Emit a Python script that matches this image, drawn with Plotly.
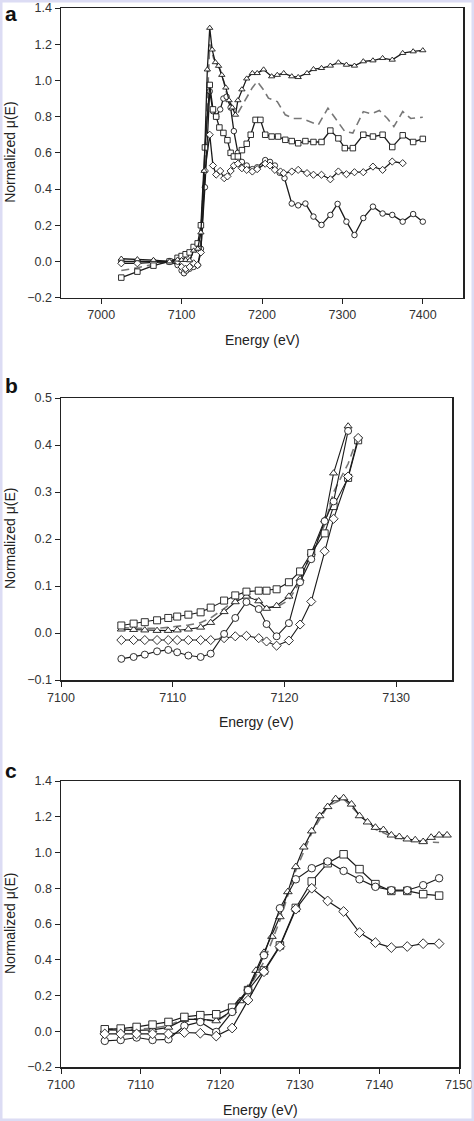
import plotly.graph_objects as go

# ---------------- Panel a data ----------------
a_tri_E = [7025, 7045, 7065, 7085, 7095, 7100, 7105, 7110, 7115, 7120, 7124, 7128, 7132, 7135, 7138, 7142,
           7146, 7150, 7155, 7159, 7163, 7167, 7170, 7175, 7181, 7188, 7194, 7202, 7212, 7219, 7227, 7237,
           7245, 7256, 7264, 7274, 7285, 7295, 7305, 7315, 7326, 7338, 7350, 7362, 7375, 7388, 7400]
a_tri_v = [0.015, 0.012, 0.008, 0.0, 0.01, 0.008, 0.008, 0.006, 0.06, 0.07, 0.16, 0.5, 1.06, 1.29, 1.17, 1.10,
           1.08, 1.03, 0.96, 0.89, 0.85, 0.81, 0.89, 0.95, 1.01, 1.04, 1.04, 1.06, 1.022, 1.03, 1.04, 1.022,
           1.018, 1.04, 1.062, 1.068, 1.081, 1.099, 1.086, 1.081, 1.105, 1.11, 1.123, 1.114, 1.151, 1.16, 1.166]

a_dash_E = [7025, 7045, 7065, 7085, 7100, 7110, 7120, 7124, 7129, 7135, 7140, 7148, 7152, 7156, 7161, 7166,
            7170, 7175, 7181, 7188, 7194, 7202, 7208, 7219, 7229, 7239, 7249, 7260, 7270, 7282, 7293, 7303,
            7313, 7326, 7336, 7346, 7356, 7364, 7375, 7385, 7400]
a_dash_v = [-0.05, -0.035, -0.015, 0.0, 0.0, 0.01, 0.07, 0.16, 0.55, 1.2, 1.12, 1.06, 1.0, 0.93, 0.87, 0.83,
            0.82, 0.86, 0.9, 0.96, 0.994, 0.948, 0.902, 0.883, 0.81, 0.79, 0.79, 0.773, 0.755, 0.847, 0.782, 0.718,
            0.709, 0.828, 0.816, 0.834, 0.79, 0.745, 0.828, 0.79, 0.797]

a_sq_E = [7025, 7045, 7065, 7085, 7095, 7100, 7105, 7110, 7115, 7120, 7124, 7129, 7135, 7139, 7143, 7147,
          7152, 7157, 7161, 7165, 7170, 7175, 7181, 7186, 7192, 7198, 7204, 7212, 7220, 7229, 7237, 7245,
          7254, 7264, 7274, 7285, 7295, 7303, 7313, 7326, 7338, 7350, 7362, 7375, 7388, 7400]
a_sq_v = [-0.089, -0.056, -0.023, 0.0, 0.02, 0.03, 0.04, 0.05, 0.08, 0.1, 0.2, 0.63, 0.975, 0.84, 0.80, 0.74,
          0.71, 0.67, 0.6, 0.58, 0.58, 0.615, 0.65, 0.70, 0.782, 0.782, 0.70, 0.69, 0.69, 0.672, 0.665, 0.653,
          0.665, 0.66, 0.66, 0.723, 0.68, 0.626, 0.626, 0.70, 0.69, 0.70, 0.632, 0.697, 0.66, 0.677]

a_cir_E = [7025, 7045, 7065, 7085, 7095, 7100, 7103, 7106, 7110, 7115, 7120, 7124, 7129, 7135, 7139, 7143,
           7148, 7152, 7156, 7161, 7165, 7170, 7175, 7181, 7188, 7194, 7204, 7210, 7216, 7222, 7228, 7237,
           7245, 7254, 7264, 7274, 7285, 7294, 7305, 7315, 7326, 7338, 7350, 7362, 7375, 7388, 7400]
a_cir_v = [0.0, 0.0, 0.0, 0.0, -0.02, -0.05, -0.065, -0.05, -0.04, -0.03, -0.02, 0.07, 0.41, 0.94, 0.83, 0.80,
           0.84, 0.90, 0.91, 0.85, 0.72, 0.60, 0.55, 0.53, 0.51, 0.52, 0.56, 0.55, 0.53, 0.49, 0.46, 0.32,
           0.31, 0.32, 0.248, 0.202, 0.257, 0.318, 0.22, 0.146, 0.24, 0.303, 0.265, 0.257, 0.22, 0.262, 0.22]

a_dia_E = [7025, 7045, 7065, 7085, 7095, 7100, 7105, 7110, 7115, 7120, 7124, 7129, 7135, 7139, 7143, 7148,
           7153, 7157, 7161, 7165, 7170, 7175, 7181, 7188, 7194, 7204, 7210, 7216, 7223, 7227, 7237, 7245,
           7256, 7264, 7274, 7285, 7295, 7305, 7315, 7326, 7338, 7350, 7362, 7375]
a_dia_v = [-0.01, -0.01, -0.005, 0.0, 0.0, -0.03, -0.04, -0.03, -0.01, -0.02, 0.05, 0.50, 0.70, 0.53, 0.48, 0.50,
           0.46, 0.47, 0.50, 0.53, 0.54, 0.515, 0.506, 0.497, 0.51, 0.54, 0.53, 0.506, 0.497, 0.488, 0.497, 0.506,
           0.488, 0.479, 0.479, 0.454, 0.497, 0.482, 0.493, 0.493, 0.524, 0.506, 0.552, 0.543]

# ---------------- Panel b data ----------------
b_E = [7105.4, 7106.5, 7107.5, 7108.6, 7109.6, 7110.4, 7111.4, 7112.5, 7113.4, 7114.6, 7115.6,
       7116.6, 7117.7, 7118.4, 7119.3, 7120.4, 7121.4, 7122.4, 7123.6, 7124.4, 7125.7, 7126.6]
b_sq_v = [0.016, 0.020, 0.023, 0.027, 0.032, 0.035, 0.039, 0.044, 0.054, 0.069, 0.080,
          0.088, 0.090, 0.090, 0.093, 0.108, 0.131, 0.17, 0.212, 0.27, 0.33, 0.41]
b_cir_v = [-0.055, -0.051, -0.046, -0.039, -0.036, -0.041, -0.048, -0.051, -0.044, -0.002, 0.032,
           0.066, 0.051, 0.019, -0.007, 0.021, 0.108, 0.157, 0.238, 0.28, 0.43]
b_dia_v = [-0.015, -0.015, -0.015, -0.015, -0.015, -0.015, -0.015, -0.015, -0.015, -0.011, -0.007,
           -0.006, -0.011, -0.018, -0.027, -0.016, 0.018, 0.067, 0.174, 0.243, 0.333, 0.415]
b_tri_v = [0.008, 0.007, 0.006, 0.005, 0.005, 0.006, 0.008, 0.012, 0.022, 0.045, 0.066,
           0.078, 0.068, 0.052, 0.058, 0.078, 0.115, 0.17, 0.24, 0.34, 0.44]
b_dash_v = [0.012, 0.01, 0.01, 0.01, 0.012, 0.014, 0.017, 0.022, 0.032, 0.052, 0.07,
            0.08, 0.07, 0.056, 0.055, 0.07, 0.11, 0.17, 0.23, 0.3, 0.36, 0.42]

# ---------------- Panel c data ----------------
c_E = [7105.5, 7107.5, 7109.5, 7111.5, 7113.5, 7115.5, 7117.5, 7119.5, 7121.5, 7123.5, 7125.5,
       7127.5, 7129.5, 7131.5, 7133.5, 7135.5, 7137.5, 7139.5, 7141.5, 7143.5, 7145.5, 7147.5]
c_sq_v = [0.011, 0.015, 0.024, 0.037, 0.052, 0.08, 0.09, 0.095, 0.132, 0.23, 0.34,
          0.48, 0.69, 0.838, 0.94, 0.99, 0.907, 0.823, 0.785, 0.785, 0.767, 0.759]
c_cir_v = [-0.054, -0.049, -0.035, -0.049, -0.045, 0.03, 0.052, -0.004, 0.108, 0.23, 0.425,
           0.688, 0.85, 0.912, 0.95, 0.897, 0.85, 0.808, 0.789, 0.789, 0.817, 0.856]
c_dia_v = [-0.015, -0.015, -0.015, -0.015, -0.015, -0.007, -0.011, -0.027, 0.018, 0.174, 0.333,
           0.474, 0.683, 0.80, 0.729, 0.67, 0.552, 0.496, 0.468, 0.474, 0.49, 0.49]
c_dash_v = [0.012, 0.01, 0.012, 0.017, 0.032, 0.07, 0.07, 0.055, 0.11, 0.23, 0.39,
            0.62, 0.9, 1.11, 1.26, 1.3, 1.21, 1.13, 1.09, 1.07, 1.06, 1.056]
c_tri_E = [7105.5, 7107.5, 7109.5, 7111.5, 7113.5, 7115.5, 7117.5, 7119.5, 7121.5, 7122.5, 7123.5,
           7124.5, 7125.5, 7126.5, 7127.5, 7128.5, 7129.5, 7130.5, 7131.5, 7132.5, 7133.5, 7134.5,
           7135.5, 7136.5, 7137.5, 7138.5, 7139.5, 7140.5, 7141.5, 7142.5, 7143.5, 7144.5, 7145.5,
           7146.5, 7147.5, 7148.5]
c_tri_v = [0.008, 0.006, 0.005, 0.008, 0.022, 0.066, 0.068, 0.058, 0.115, 0.17, 0.24,
           0.34, 0.44, 0.53, 0.64, 0.78, 0.92, 1.03, 1.12, 1.205, 1.256, 1.30,
           1.305, 1.27, 1.205, 1.17, 1.14, 1.127, 1.097, 1.088, 1.075, 1.07, 1.06,
           1.084, 1.097, 1.097]

# ---------------- Figure ----------------
W, H = 474, 1121
fig = go.Figure()

panels = {
    "a": dict(x=(61, 463), y=(8, 297.7), xr=[6950, 7450], xd=100, yr=[-0.2, 1.4], yd=0.2,
              msize=5.5, lw=1.3, xt=340, label_y=14),
    "b": dict(x=(61, 452), y=(398, 680), xr=[7100, 7135], xd=10, yr=[-0.1, 0.5], yd=0.1,
              msize=7, lw=1.1, xt=722, label_y=385),
    "c": dict(x=(61, 459), y=(781, 1067), xr=[7100, 7150], xd=10, yr=[-0.2, 1.4], yd=0.2,
              msize=7.5, lw=1.2, xt=1110, label_y=770),
}

series = {
    "a": [
        (a_dash_E, a_dash_v, None),
        (a_cir_E, a_cir_v, "circle"),
        (a_dia_E, a_dia_v, "diamond"),
        (a_sq_E, a_sq_v, "square"),
        (a_tri_E, a_tri_v, "triangle-up"),
    ],
    "b": [
        (b_E[:len(b_dash_v)], b_dash_v, None),
        (b_E[:len(b_tri_v)], b_tri_v, "triangle-up"),
        (b_E[:len(b_sq_v)], b_sq_v, "square"),
        (b_E[:len(b_dia_v)], b_dia_v, "diamond"),
        (b_E[:len(b_cir_v)], b_cir_v, "circle"),
    ],
    "c": [
        (c_E, c_dash_v, None),
        (c_tri_E, c_tri_v, "triangle-up"),
        (c_E, c_sq_v, "square"),
        (c_E, c_cir_v, "circle"),
        (c_E, c_dia_v, "diamond"),
    ],
}

font_fam = "Liberation Sans, Arial, sans-serif"
annotations = []
for i, (key, p) in enumerate(panels.items()):
    ax = "" if i == 0 else str(i + 1)
    xa, ya = "x" + ax, "y" + ax
    for xs, ys, sym in series[key]:
        if sym is None:
            fig.add_trace(go.Scatter(x=xs, y=ys, xaxis=xa, yaxis=ya, mode="lines",
                                     line=dict(color="#777777", width=1.6, dash="8px,5px"),
                                     showlegend=False, hoverinfo="skip"))
        else:
            fig.add_trace(go.Scatter(x=xs, y=ys, xaxis=xa, yaxis=ya, mode="lines+markers",
                                     line=dict(color="#1a1a1a", width=p["lw"]),
                                     marker=dict(symbol=sym, size=p["msize"], color="white",
                                                 line=dict(color="#1a1a1a", width=0.9)),
                                     showlegend=False, hoverinfo="skip"))
    xdom = [p["x"][0] / W, p["x"][1] / W]
    ydom = [1 - p["y"][1] / H, 1 - p["y"][0] / H]
    axis_common = dict(showline=True, mirror=True, linecolor="#222", linewidth=1.5,
                       ticks="outside", ticklen=5, tickwidth=1, tickcolor="#222",
                       showgrid=False, zeroline=False, automargin=False,
                       tickfont=dict(family=font_fam, size=12.5, color="#333"))
    fig.update_layout(**{
        "xaxis" + ax: dict(domain=xdom, range=p["xr"], dtick=p["xd"], anchor=ya, **axis_common),
        "yaxis" + ax: dict(domain=ydom, range=p["yr"], dtick=p["yd"], tickformat=".1f",
                           anchor=xa, **axis_common),
    })
    xc = (p["x"][0] + p["x"][1]) / 2
    yc = (p["y"][0] + p["y"][1]) / 2
    annotations.append(dict(text="Energy (eV)", x=xc / W, y=1 - p["xt"] / H, xref="paper", yref="paper",
                            showarrow=False, xanchor="center", yanchor="middle",
                            font=dict(family=font_fam, size=14, color="#222")))
    annotations.append(dict(text="Normalized μ(E)", x=10 / W, y=1 - yc / H, xref="paper", yref="paper",
                            showarrow=False, textangle=-90, xanchor="center", yanchor="middle",
                            font=dict(family=font_fam, size=14, color="#222")))
    annotations.append(dict(text="<b>%s</b>" % key, x=3 / W, y=1 - p["label_y"] / H, xref="paper",
                            yref="paper", showarrow=False, xanchor="left", yanchor="middle",
                            font=dict(family=font_fam, size=21, color="#111")))

fig.update_layout(
    width=W, height=H,
    margin=dict(l=0, r=0, t=0, b=0, pad=0, autoexpand=False),
    paper_bgcolor="white", plot_bgcolor="white",
    annotations=annotations,
    shapes=[dict(type="rect", xref="paper", yref="paper", x0=0, y0=0, x1=1, y1=1,
                 line=dict(color="#dcdcf4", width=5), fillcolor="rgba(0,0,0,0)", layer="above")],
)

fig.write_html("out.html",
               config={"displayModeBar": False, "staticPlot": True},
               post_script="document.body.style.margin='0px';document.body.style.padding='0px';"
                           "document.body.style.overflow='hidden';")
